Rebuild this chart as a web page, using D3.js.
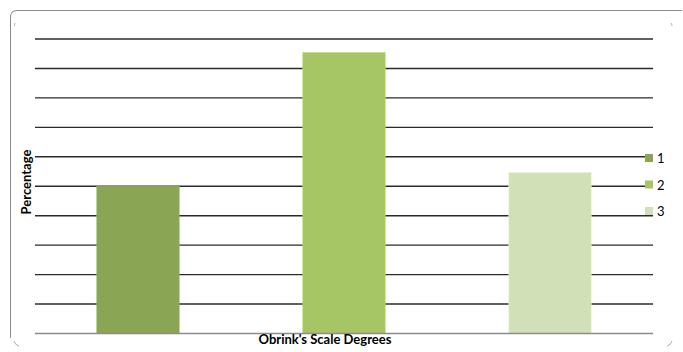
<!DOCTYPE html>
<html>
<head>
<meta charset="utf-8">
<script src="https://cdn.jsdelivr.net/npm/d3@7"></script>
<style>
  html, body { margin: 0; padding: 0; background: #fff; }
  svg { display: block; }
  text { font-family: Lato, "Open Sans", sans-serif; fill: #000; }
</style>
</head>
<body>
<div id="chart"></div>
<script>
// Obrink's scale degrees: share of each degree, in percent
const categories = ["1", "2", "3"];
const values = [50, 95.4, 54.7];
const colors = ["#8AA553", "#A6C665", "#D1E0B6"];
const yTicks = [0, 10, 20, 30, 40, 50, 60, 70, 80, 90, 100];

const width = 683, height = 352;
const plot = { left: 35, right: 653, top: 39, bottom: 333.5 };

const svg = d3.select("#chart").append("svg")
  .attr("width", width).attr("height", height);

// frame: left and top edges with rounded corner
svg.append("path")
  .attr("d", "M10.5,338 L10.5,17 Q10.5,10.5 17,10.5 L682,10.5")
  .attr("fill", "none").attr("stroke", "#8c8c8c").attr("stroke-width", 1);
// small corner marks
const marks = [
  "M15,23 Q14.5,24.5 14.5,26",
  "M671,23 Q672,24.5 672,26",
  "M14,341 Q15,345 19,346",
  "M672,341 Q671,345 667,346"
];
svg.selectAll("path.mark").data(marks).join("path")
  .attr("class", "mark").attr("d", d => d)
  .attr("fill", "none").attr("stroke", "#999").attr("stroke-width", 0.8);

const x = d3.scaleBand()
  .domain(categories)
  .range([plot.left, plot.right])
  .paddingInner(0.6)
  .paddingOuter(0.3);

const y = d3.scaleLinear()
  .domain([0, 100])
  .range([plot.bottom, plot.top]);

// horizontal gridlines
svg.append("g").selectAll("line")
  .data(yTicks.filter(t => t > 0))
  .join("line")
  .attr("x1", plot.left).attr("x2", plot.right)
  .attr("y1", d => y(d)).attr("y2", d => y(d))
  .attr("stroke", "#2b2b2b").attr("stroke-width", 1.4);

// bars
svg.append("g").selectAll("rect")
  .data(categories.map((c, i) => ({ c, v: values[i], col: colors[i] })))
  .join("rect")
  .attr("x", d => x(d.c))
  .attr("y", d => y(d.v))
  .attr("width", x.bandwidth())
  .attr("height", d => y(0) - y(d.v))
  .attr("fill", d => d.col)
  .attr("stroke", d => d3.color(d.col).brighter(0.3))
  .attr("stroke-width", 0.6);

// baseline
svg.append("line")
  .attr("x1", plot.left).attr("x2", plot.right)
  .attr("y1", y(0)).attr("y2", y(0))
  .attr("stroke", "#8c8c8c").attr("stroke-width", 1.6);

// axis titles
svg.append("text")
  .attr("x", 325).attr("y", 344)
  .attr("text-anchor", "middle")
  .attr("font-size", 13).attr("font-weight", "bold")
  .text("Obrink's Scale Degrees");

svg.append("text")
  .attr("transform", "translate(31,182) rotate(-90)")
  .attr("text-anchor", "middle")
  .attr("font-size", 13).attr("font-weight", "bold")
  .text("Percentage");

// legend
const legend = svg.append("g").selectAll("g")
  .data(categories)
  .join("g")
  .attr("transform", (d, i) => `translate(645,${154 + i * 26.5})`);
legend.append("rect")
  .attr("width", 8).attr("height", 8)
  .attr("fill", (d, i) => colors[i]);
legend.append("text")
  .attr("x", 12).attr("y", 9)
  .attr("font-size", 13)
  .text(d => d);
</script>
</body>
</html>
